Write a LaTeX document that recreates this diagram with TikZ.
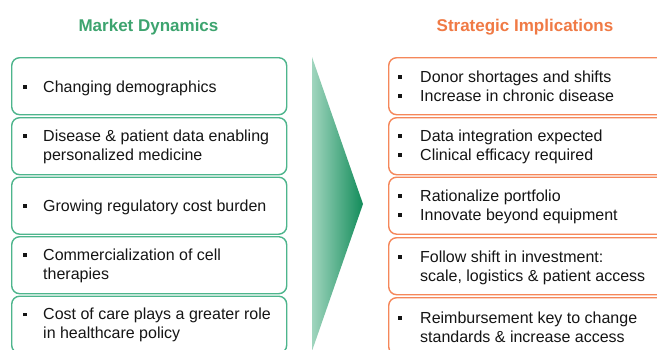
\documentclass[tikz,border=0pt]{standalone}
\usepackage{fontspec}
\setmainfont{Liberation Sans}
\definecolor{mgreen}{HTML}{3DA46F}
\definecolor{bgreen}{HTML}{4DB58C}
\definecolor{morange}{HTML}{F07A45}
\definecolor{borange}{HTML}{F5875A}
\definecolor{txtc}{HTML}{151515}
\definecolor{arrL}{HTML}{A0D5BE}
\definecolor{arrR}{HTML}{128C5A}
\newcommand\bul[1]{\llap{\raisebox{3.4pt}{\rule{3.6pt}{3.6pt}}\hspace{#1pt}}}
\newcommand\twol[2]{\vtop{\hbox{#1}\hbox{#2}}}
\tikzset{
  boxbase/.style={rectangle, rounded corners=8pt, line width=1.4pt, fill=white,
    anchor=north west, inner sep=0pt},
  gbox/.style={boxbase, draw=bgreen, minimum width=275pt, minimum height=57pt},
  obox/.style={boxbase, draw=borange, minimum width=290pt, minimum height=57pt},
  txtnode/.style={anchor=base west, inner sep=0pt, text=txtc,
    font=\fontsize{16}{19}\selectfont},
  headg/.style={anchor=base, inner sep=0pt, text=mgreen,
    font=\fontsize{17}{20}\selectfont\bfseries},
  heado/.style={headg, text=morange}
}
\begin{document}
\begin{tikzpicture}[x=1pt,y=-1pt]
\useasboundingbox (0,0) rectangle (657,349);
\clip (0,0) rectangle (657,349);
\fill[white] (0,0) rectangle (657,349);
% headings
\node[headg] (h1) at (148.5,31.5) {Market Dynamics};
\node[heado] (h2) at (525,31.5) {Strategic Implications};
% arrow
\shade[left color=arrL, right color=arrR] (312,57) -- (363,204) -- (312,351) -- cycle;
% left boxes
\node[gbox] (g1) at (11,57) {};
\node[gbox] (g2) at (11,117) {};
\node[gbox] (g3) at (11,176.5) {};
\node[gbox] (g4) at (11,236) {};
\node[gbox] (g5) at (11,295.5) {};
\node[txtnode] (tg1) at (43,92) {\bul{16.5}Changing demographics};
\node[txtnode] (tg2) at (43,141) {\twol{\bul{16.5}Disease \& patient data enabling}{personalized medicine}};
\node[txtnode] (tg3) at (43,211) {\bul{16.5}Growing regulatory cost burden};
\node[txtnode] (tg4) at (43,260) {\twol{\bul{16.5}Commercialization of cell}{therapies}};
\node[txtnode] (tg5) at (43,319.5) {\twol{\bul{16.5}Cost of care plays a greater role}{in healthcare policy}};
% right boxes
\node[obox] (o1) at (388,57) {};
\node[obox] (o2) at (388,117) {};
\node[obox] (o3) at (388,176.5) {};
\node[obox] (o4) at (388,237) {};
\node[obox] (o5) at (388,297) {};
\node[txtnode] (to1) at (420,82) {\twol{\bul{18.5}Donor shortages and shifts}{\bul{18.5}Increase in chronic disease}};
\node[txtnode] (to2) at (420,141) {\twol{\bul{18.5}Data integration expected}{\bul{18.5}Clinical efficacy required}};
\node[txtnode] (to3) at (420,201) {\twol{\bul{18.5}Rationalize portfolio}{\bul{18.5}Innovate beyond equipment}};
\node[txtnode] (to4) at (420,262) {\twol{\bul{18.5}Follow shift in investment:}{scale, logistics \& patient access}};
\node[txtnode] (to5) at (420,323) {\twol{\bul{18.5}Reimbursement key to change}{standards \& increase access}};
\end{tikzpicture}
\end{document}
